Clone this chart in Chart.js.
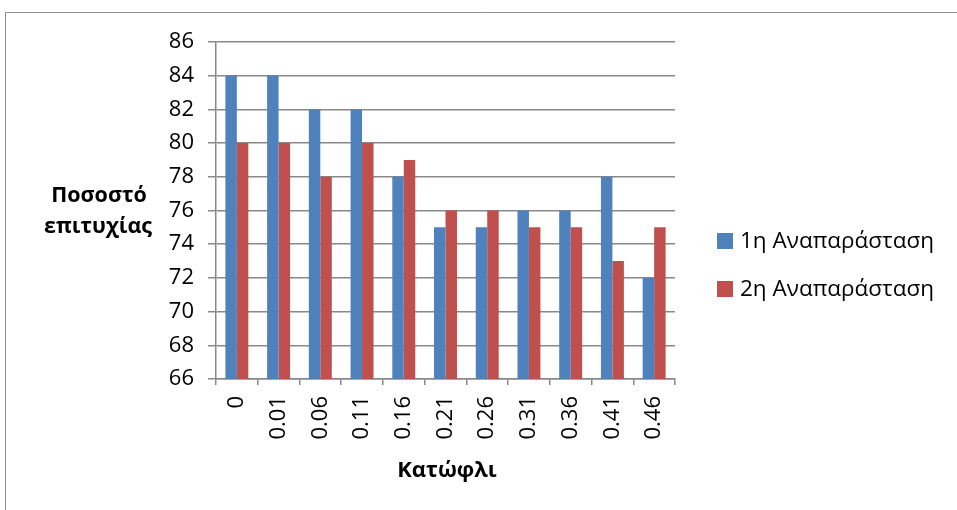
<!DOCTYPE html>
<html>
<head>
<meta charset="utf-8">
<script src="https://cdn.jsdelivr.net/npm/chart.js@4.4.1/dist/chart.umd.min.js"></script>
<style>
  html, body { margin: 0; padding: 0; background: #fff; }
  #chart { display: block; }
</style>
</head>
<body>
<canvas id="chart" width="957" height="510"></canvas>
<script>
// Success rate per threshold, two representations
const thresholds = ['0', '0.01', '0.06', '0.11', '0.16', '0.21', '0.26', '0.31', '0.36', '0.41', '0.46'];
const rep1 = [84, 84, 82, 82, 78, 75, 75, 76, 76, 78, 72];
const rep2 = [80, 80, 78, 80, 79, 76, 76, 75, 75, 73, 75];
const seriesNames = ['1η Αναπαράσταση', '2η Αναπαράσταση'];
const yMin = 66, yMax = 86, yStep = 2;

const FONT = "'Open Sans', 'Noto Sans', sans-serif";
const GRID = '#888888';

// frame, axis titles and the legend drawn straight onto the canvas
const decorations = {
    id: 'decorations',
    afterDraw(chart) {
        const ctx = chart.ctx;
        ctx.save();
        ctx.strokeStyle = '#8c8c8c';
        ctx.lineWidth = 1;
        ctx.beginPath();
        ctx.moveTo(5.5, 520);
        ctx.lineTo(5.5, 12.5);
        ctx.lineTo(970, 12.5);
        ctx.stroke();

        ctx.fillStyle = '#000';
        ctx.textAlign = 'center';
        ctx.textBaseline = 'alphabetic';
        ctx.font = 'bold 21.5px ' + FONT;
        ctx.fillText('Ποσοστό', 99, 202);
        ctx.fillText('επιτυχίας', 98, 233);
        ctx.font = 'bold 22px ' + FONT;
        ctx.fillText('Κατώφλι', 447, 477);

        ctx.textAlign = 'left';
        ctx.textBaseline = 'middle';
        ctx.font = '22.5px ' + FONT;
        chart.data.datasets.forEach((ds, i) => {
            const cy = 241 + i * 48;
            ctx.fillStyle = ds.backgroundColor;
            ctx.fillRect(717, cy - 8, 16, 16);
            ctx.fillStyle = '#000';
            ctx.fillText(ds.label, 740, cy + 1);
        });
        ctx.restore();
    }
};

window.addEventListener('DOMContentLoaded', () => {
    new Chart(document.getElementById('chart'), {
        type: 'bar',
        data: {
            labels: thresholds,
            datasets: [
                { label: seriesNames[0], data: rep1, backgroundColor: '#4F81BD' },
                { label: seriesNames[1], data: rep2, backgroundColor: '#C0504D' }
            ]
        },
        options: {
            responsive: false,
            animation: false,
            layout: { padding: { left: 0, right: 282, top: 42, bottom: 0 } },
            datasets: { bar: { categoryPercentage: 0.55, barPercentage: 1.0 } },
            plugins: {
                legend: { display: false },
                tooltip: { enabled: false }
            },
            scales: {
                x: {
                    afterFit(scale) { scale.height = 131; },
                    grid: {
                        offset: true,
                        drawOnChartArea: false,
                        color: GRID,
                        lineWidth: 1.5,
                        tickLength: 6
                    },
                    border: { color: GRID, width: 1.5 },
                    ticks: {
                        color: '#000',
                        font: { family: FONT, size: 22 },
                        minRotation: 90,
                        maxRotation: 90,
                        padding: 11,
                        autoSkip: false
                    }
                },
                y: {
                    min: yMin,
                    max: yMax,
                    afterFit(scale) { scale.width = 216; },
                    grid: { color: GRID, lineWidth: 1.5, tickLength: 8 },
                    border: { color: GRID, width: 1.5 },
                    ticks: {
                        stepSize: yStep,
                        color: '#000',
                        font: { family: FONT, size: 22 },
                        padding: 14
                    }
                }
            }
        },
        plugins: [decorations]
    });
});
</script>
</body>
</html>
